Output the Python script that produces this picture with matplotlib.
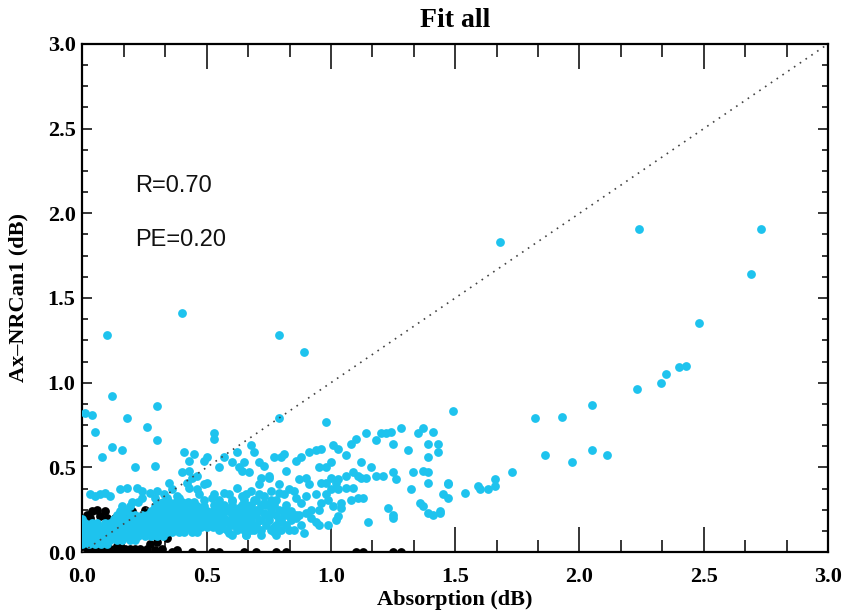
import matplotlib
matplotlib.use('Agg')
import matplotlib.pyplot as plt
from matplotlib.ticker import MultipleLocator, FormatStrFormatter

# axis ranges and tick spacing
x_range = (0.0, 3.0)
y_range = (0.0, 3.0)
major_step = 0.5

# stats printed in the upper left
r_text = 'R=0.70'
pe_text = 'PE=0.20'

# black points (first series), mostly hugging the origin and the x axis
black_pts = [
    (0.02, 0.22), (0.04, 0.24), (0.03, 0.20), (0.07, 0.21), (0.09, 0.24),
    (0.10, 0.20), (0.06, 0.25), (0.20, 0.24), (0.25, 0.25), (0.17, 0.22),
    (0.13, 0.20), (0.00, 0.01), (0.02, 0.02), (0.04, 0.00), (0.06, 0.01),
    (0.08, 0.02), (0.10, 0.00), (0.12, 0.01), (0.14, 0.00), (0.16, 0.02),
    (0.18, 0.00), (0.20, 0.01), (0.22, 0.00), (0.27, 0.05), (0.30, 0.06),
    (0.34, 0.08), (0.25, 0.00), (0.30, 0.00), (0.36, 0.00), (0.38, 0.01),
    (0.44, 0.00), (0.52, 0.00), (0.55, 0.00), (0.65, 0.00), (0.70, 0.00),
    (0.78, 0.00), (0.82, 0.00), (1.10, 0.00), (1.13, 0.00), (1.25, 0.00),
    (1.28, 0.00), (0.01, 0.02), (0.03, 0.015), (0.05, 0.02), (0.07, 0.015),
    (0.09, 0.02), (0.11, 0.02), (0.13, 0.015), (0.15, 0.02), (0.17, 0.015),
    (0.19, 0.02), (0.21, 0.02), (0.23, 0.015), (0.26, 0.02), (0.29, 0.01),
    (0.32, 0.02), (0.02, 0.035), (0.06, 0.035), (0.10, 0.035), (0.14, 0.035),
]

# cyan points: dense core near the origin, one row per y value
core_rows_y = [0.045, 0.07, 0.095, 0.12, 0.145, 0.17, 0.195, 0.22, 0.245,
               0.27, 0.295, 0.32]
core_rows_x = [
    [0.00, 0.025, 0.05, 0.075, 0.10],
    [0.01, 0.04, 0.06, 0.09, 0.11, 0.14, 0.16, 0.19, 0.21],
    [0.00, 0.025, 0.05, 0.075, 0.10, 0.125, 0.15, 0.175, 0.20, 0.225, 0.25,
     0.275, 0.30, 0.325],
    [0.01, 0.04, 0.06, 0.09, 0.11, 0.14, 0.16, 0.19, 0.21, 0.24, 0.26, 0.29,
     0.31, 0.34, 0.36, 0.39, 0.41, 0.44, 0.46],
    [0.00, 0.025, 0.05, 0.075, 0.10, 0.125, 0.15, 0.175, 0.20, 0.225, 0.25,
     0.275, 0.30, 0.325, 0.35, 0.375, 0.40, 0.425, 0.45, 0.475, 0.50, 0.525],
    [0.01, 0.04, 0.06, 0.09, 0.11, 0.14, 0.16, 0.19, 0.21, 0.24, 0.26, 0.29,
     0.31, 0.34, 0.36, 0.39, 0.41, 0.44, 0.46, 0.49, 0.51, 0.54, 0.56, 0.59],
    [0.00, 0.125, 0.15, 0.175, 0.20, 0.225, 0.25, 0.275, 0.30, 0.325, 0.35,
     0.375, 0.40, 0.425, 0.45, 0.475, 0.50, 0.525, 0.55, 0.575, 0.60],
    [0.14, 0.16, 0.19, 0.21, 0.24, 0.26, 0.29, 0.31, 0.34, 0.36, 0.39, 0.41,
     0.44, 0.46, 0.49, 0.51, 0.54, 0.56],
    [0.15, 0.175, 0.275, 0.30, 0.325, 0.35, 0.375, 0.40, 0.425, 0.45, 0.475,
     0.50, 0.525],
    [0.16, 0.19, 0.29, 0.31, 0.34, 0.36, 0.39, 0.41, 0.44, 0.46, 0.49],
    [0.20, 0.225, 0.30, 0.325, 0.35, 0.375, 0.40, 0.425, 0.45],
    [0.24, 0.29, 0.34, 0.39],
]

# cyan points: dense fill just past the core (0.5 - 0.9 dB)
cyan_fill = [
    (0.60, 0.10), (0.66, 0.10), (0.72, 0.10), (0.78, 0.10),
    (0.55, 0.13), (0.58, 0.13), (0.62, 0.13), (0.65, 0.13), (0.69, 0.13),
    (0.72, 0.13), (0.76, 0.13), (0.80, 0.13), (0.85, 0.13),
    (0.56, 0.16), (0.60, 0.16), (0.63, 0.16), (0.67, 0.16), (0.70, 0.16),
    (0.74, 0.16), (0.78, 0.16), (0.82, 0.16),
    (0.62, 0.19), (0.65, 0.19), (0.68, 0.19), (0.71, 0.19), (0.75, 0.19),
    (0.79, 0.19), (0.84, 0.19),
    (0.60, 0.22), (0.63, 0.22), (0.66, 0.22), (0.70, 0.22), (0.74, 0.22),
    (0.78, 0.22), (0.81, 0.22), (0.86, 0.22),
    (0.55, 0.25), (0.58, 0.25), (0.61, 0.25), (0.64, 0.25), (0.67, 0.25),
    (0.71, 0.25), (0.76, 0.25), (0.81, 0.25),
    (0.53, 0.28), (0.57, 0.28), (0.60, 0.28), (0.64, 0.28), (0.68, 0.28),
    (0.72, 0.28), (0.77, 0.28),
    (0.49, 0.31), (0.55, 0.31), (0.60, 0.31), (0.65, 0.31), (0.70, 0.31),
    (0.76, 0.31),
    (0.47, 0.34), (0.53, 0.34), (0.59, 0.34), (0.66, 0.34), (0.71, 0.34),
]

# cyan points: scatter between 0.5 and 1.5 dB
cyan_mid = [
    (0.52, 0.32), (0.55, 0.28), (0.57, 0.35), (0.58, 0.24), (0.60, 0.30),
    (0.61, 0.20), (0.62, 0.38), (0.63, 0.26), (0.64, 0.33), (0.65, 0.17),
    (0.66, 0.28), (0.67, 0.22), (0.68, 0.36), (0.69, 0.31), (0.70, 0.14),
    (0.70, 0.25), (0.71, 0.40), (0.72, 0.19), (0.73, 0.33), (0.74, 0.28),
    (0.75, 0.22), (0.76, 0.36), (0.77, 0.12), (0.78, 0.31), (0.79, 0.25),
    (0.80, 0.18), (0.81, 0.34), (0.82, 0.28), (0.83, 0.13), (0.84, 0.24),
    (0.85, 0.36), (0.86, 0.20), (0.88, 0.29), (0.89, 0.11), (0.90, 0.33),
    (0.92, 0.20), (0.53, 0.18), (0.56, 0.14), (0.54, 0.22), (0.59, 0.11),
    (0.62, 0.15), (0.66, 0.10), (0.68, 0.13),
    (0.79, 0.79), (0.98, 0.77), (1.28, 0.73), (1.20, 0.70), (1.22, 0.70),
    (1.24, 0.71), (1.35, 0.70), (1.37, 0.73), (1.41, 0.71), (1.14, 0.70),
    (1.10, 0.67), (1.08, 0.64), (1.25, 0.64), (1.39, 0.64), (1.43, 0.64),
    (1.18, 0.66), (1.01, 0.63), (1.03, 0.61), (1.06, 0.57), (0.96, 0.61),
    (0.91, 0.59), (0.94, 0.60), (0.86, 0.54), (0.88, 0.56), (0.81, 0.58),
    (0.80, 0.56), (0.77, 0.56), (1.31, 0.60), (1.43, 0.59), (1.39, 0.56),
    (1.00, 0.53), (0.98, 0.50), (0.95, 0.50), (1.12, 0.53), (1.16, 0.50),
    (0.82, 0.48), (0.75, 0.44), (1.37, 0.48), (1.39, 0.47), (1.33, 0.47),
    (1.18, 0.45), (1.21, 0.45), (1.25, 0.47), (1.26, 0.43), (1.06, 0.45),
    (1.09, 0.47), (1.11, 0.45), (1.12, 0.44), (1.14, 0.44), (1.00, 0.44),
    (1.03, 0.43), (0.96, 0.41), (0.98, 0.41), (1.02, 0.41), (0.87, 0.43),
    (0.90, 0.44), (0.91, 0.40), (1.39, 0.41), (1.47, 0.41), (1.09, 0.38),
    (1.06, 0.38), (1.00, 0.37), (1.03, 0.37), (0.94, 0.34), (0.98, 0.34),
    (0.79, 0.40), (0.83, 0.37), (0.79, 0.35), (0.86, 0.32), (1.32, 0.37),
    (1.13, 0.32), (1.11, 0.32), (1.08, 0.31), (1.04, 0.29), (1.01, 0.27),
    (0.99, 0.31), (0.96, 0.29), (1.36, 0.29), (1.37, 0.27), (1.39, 0.23),
    (1.41, 0.22), (1.44, 0.23), (1.23, 0.26), (1.25, 0.22), (1.25, 0.20),
    (0.92, 0.25), (0.95, 0.25), (0.90, 0.23), (0.87, 0.22), (1.04, 0.26),
    (1.03, 0.21), (1.02, 0.19), (1.15, 0.18), (0.94, 0.18), (0.95, 0.16),
    (0.99, 0.16), (0.88, 0.16), (0.77, 0.15), (0.80, 0.19), (0.83, 0.21),
    (0.73, 0.29), (0.76, 0.27), (0.73, 0.23),
]

# cyan points: sparse upper outliers and the far tail
cyan_far = [
    (0.10, 1.28), (0.40, 1.41), (0.79, 1.28), (0.89, 1.18), (1.68, 1.83),
    (0.12, 0.92), (0.30, 0.86), (0.01, 0.82), (0.04, 0.81), (0.18, 0.79),
    (0.26, 0.74), (0.05, 0.71), (0.30, 0.66), (0.12, 0.62), (0.16, 0.60),
    (0.08, 0.56), (0.53, 0.70), (0.53, 0.67), (0.21, 0.50), (0.29, 0.51),
    (0.41, 0.59), (0.45, 0.58), (0.50, 0.56), (0.49, 0.54), (0.62, 0.59),
    (0.65, 0.53), (0.68, 0.63), (0.69, 0.59), (0.57, 0.56), (0.60, 0.53),
    (0.63, 0.50), (0.64, 0.48), (0.55, 0.50), (0.67, 0.47), (0.71, 0.53),
    (0.73, 0.51), (0.72, 0.44), (0.75, 0.45), (0.43, 0.54), (0.40, 0.47),
    (0.43, 0.48), (0.46, 0.45), (0.44, 0.44), (0.42, 0.41), (0.43, 0.38),
    (0.46, 0.37), (0.49, 0.40), (0.50, 0.41), (0.35, 0.41),
    (0.03, 0.34), (0.05, 0.33), (0.07, 0.34), (0.09, 0.35), (0.11, 0.33),
    (0.15, 0.37), (0.18, 0.38), (0.22, 0.38), (0.24, 0.36), (0.27, 0.35),
    (0.30, 0.36), (0.33, 0.34), (0.36, 0.37), (0.38, 0.33),
    (2.24, 1.91), (2.73, 1.91), (2.69, 1.64), (2.48, 1.35), (2.43, 1.10),
    (2.40, 1.09), (2.35, 1.05), (2.33, 1.00), (2.23, 0.96), (2.05, 0.87),
    (1.93, 0.80), (1.82, 0.79), (1.86, 0.57), (1.97, 0.53), (2.05, 0.60),
    (2.11, 0.57), (1.73, 0.47), (1.66, 0.43), (1.49, 0.83), (1.63, 0.37),
    (1.66, 0.39), (1.59, 0.39), (1.60, 0.37), (1.54, 0.35), (1.47, 0.40),
    (1.45, 0.34), (1.47, 0.32), (1.44, 0.24),
]

cyan = '#1ec3ee'
dot_size = 40

fig = plt.figure(figsize=(8.46, 6.15), dpi=100)
ax = fig.add_axes([0.0975, 0.1024, 0.8812, 0.8261])

ax.scatter([p[0] for p in black_pts], [p[1] for p in black_pts],
           s=dot_size, c='black', linewidths=0, zorder=2)

core_x = [x for xs in core_rows_x for x in xs]
core_y = [y for y, xs in zip(core_rows_y, core_rows_x) for _ in xs]
ax.scatter(core_x, core_y, s=dot_size, c=cyan, linewidths=0, zorder=3)
for grp in (cyan_fill, cyan_mid, cyan_far):
    ax.scatter([p[0] for p in grp], [p[1] for p in grp],
               s=dot_size, c=cyan, linewidths=0, zorder=3)

# 1:1 line
ax.plot(x_range, y_range, color='#444444', lw=1.2,
        linestyle=(0, (1, 3.2)), zorder=4)

ax.set_xlim(*x_range)
ax.set_ylim(*y_range)

serif_bold = dict(family='Liberation Serif', weight='bold')

ax.xaxis.set_major_locator(MultipleLocator(major_step))
ax.yaxis.set_major_locator(MultipleLocator(major_step))
ax.xaxis.set_minor_locator(MultipleLocator(major_step / 3))
ax.yaxis.set_minor_locator(MultipleLocator(major_step / 4))
ax.xaxis.set_major_formatter(FormatStrFormatter('%.1f'))
ax.yaxis.set_major_formatter(FormatStrFormatter('%.1f'))

ax.tick_params(axis='x', which='both', direction='in', top=True,
               width=1.1, color='black')
ax.tick_params(axis='x', which='major', length=18, pad=11)
ax.tick_params(axis='x', which='minor', length=9)
ax.tick_params(axis='y', which='both', direction='in', right=True,
               width=1.1, color='black')
ax.tick_params(axis='y', which='major', length=7, pad=5)
ax.tick_params(axis='y', which='minor', length=4.5)

for lab in ax.get_xticklabels() + ax.get_yticklabels():
    lab.set_fontfamily('Liberation Serif')
    lab.set_fontweight('bold')
    lab.set_fontsize(16)

for sp in ax.spines.values():
    sp.set_linewidth(1.6)

ax.set_title('Fit all', fontsize=20, pad=12, **serif_bold)
ax.set_xlabel('Absorption (dB)', fontsize=16, labelpad=2, **serif_bold)
ax.set_ylabel('Ax\u2013NRCan1 (dB)', fontsize=16, labelpad=14, **serif_bold)

ax.text(0.21, 2.16, r_text, fontsize=17, family='Liberation Sans',
        va='center', ha='left', color='#111111')
ax.text(0.21, 1.84, pe_text, fontsize=17, family='Liberation Sans',
        va='center', ha='left', color='#111111')

fig.savefig('out.png', dpi=100)
